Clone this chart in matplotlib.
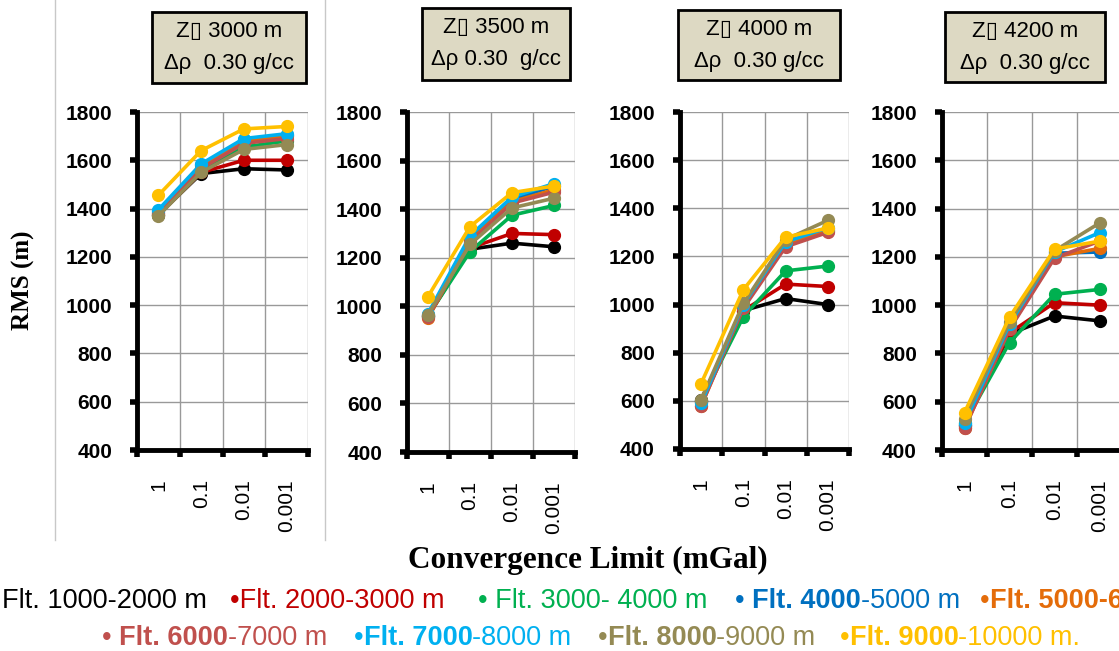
import matplotlib
matplotlib.use("Agg")
import matplotlib.pyplot as plt
from matplotlib.patches import Rectangle
from matplotlib.lines import Line2D

W, H = 1119, 651

# --- data ---
limits = ["1", "0.1", "0.01", "0.001"]
depths = ["3000", "3500", "4000", "4200"]
rho_text = ["Δρ  0.30 g/cc", "Δρ 0.30  g/cc", "Δρ  0.30 g/cc", "Δρ  0.30 g/cc"]

bands = ["1000-2000", "2000-3000", "3000-4000", "4000-5000", "5000-6000",
         "6000-7000", "7000-8000", "8000-9000", "9000-10000"]
colors = ["#000000", "#C00000", "#00B050", "#0070C0", "#E46C0A",
          "#C0504D", "#00B0F0", "#948A54", "#FFC000"]

# RMS (m) per filter band, one list per band, same order as `bands`
rms_3000 = [
    [1375, 1545, 1565, 1560],
    [1375, 1550, 1600, 1600],
    [1375, 1555, 1655, 1680],
    [1390, 1580, 1685, 1705],
    [1380, 1570, 1680, 1700],
    [1380, 1565, 1670, 1690],
    [1395, 1585, 1690, 1710],
    [1370, 1550, 1645, 1665],
    [1455, 1640, 1730, 1740],
]
rms_3500 = [
    [960, 1235, 1260, 1245],
    [960, 1240, 1300, 1295],
    [960, 1225, 1375, 1415],
    [965, 1280, 1440, 1495],
    [950, 1270, 1430, 1480],
    [955, 1265, 1425, 1470],
    [970, 1290, 1450, 1505],
    [965, 1255, 1405, 1445],
    [1040, 1328, 1468, 1495],
]
rms_4000 = [
    [605, 975, 1025, 1000],
    [600, 975, 1085, 1075],
    [600, 950, 1140, 1160],
    [595, 995, 1255, 1310],
    [580, 990, 1250, 1305],
    [580, 985, 1240, 1300],
    [590, 1000, 1260, 1320],
    [605, 1005, 1270, 1350],
    [672, 1062, 1280, 1318],
]
rms_4200 = [
    [505, 880, 955, 935],
    [500, 885, 1010, 1000],
    [510, 845, 1045, 1065],
    [505, 915, 1215, 1220],
    [490, 905, 1200, 1235],
    [490, 900, 1195, 1265],
    [510, 920, 1220, 1300],
    [530, 930, 1225, 1340],
    [555, 950, 1232, 1265],
]
panels = [rms_3000, rms_3500, rms_4000, rms_4200]

# --- layout (pixel boxes: left, top, right, bottom) ---
axes_px = [(137, 112, 308, 450), (407, 112, 575, 452),
           (680, 112, 849, 449), (942, 112, 1122, 450)]
boxes_px = [(152, 12, 306, 83), (422, 8, 570, 80),
            (678, 10, 840, 80), (945, 12, 1105, 82)]

SANS = ["Liberation Sans", "DejaVu Sans"]
SERIF = ["Liberation Serif", "DejaVu Serif"]
plt.rcParams["font.family"] = SANS


def fx(px):
    return px / W


def fy(py):
    return 1 - py / H


fig = plt.figure(figsize=(W / 100, H / 100), dpi=100)

for k, data in enumerate(panels):
    l, t, r, b = axes_px[k]
    ax = fig.add_axes([fx(l), fy(b), fx(r - l), (b - t) / H])
    xs = [i + 0.5 for i in range(len(limits))]
    for vals, c in zip(data, colors):
        ax.plot(xs, vals, color=c, lw=2.6, marker="o", ms=8.5, mec=c, mfc=c)

    ax.set_xlim(0, 4)
    ax.set_ylim(400, 1800)
    ax.set_yticks(range(400, 1801, 200))
    ax.set_xticks(range(0, 5))
    ax.set_xticklabels([])
    ax.set_xticks(xs, minor=True)
    ax.set_xticklabels(limits, minor=True, rotation=90, va="top", fontsize=15)
    ax.tick_params(axis="x", which="minor", length=0, pad=21)
    ax.tick_params(axis="x", which="major", length=5, width=4, direction="out")
    ax.tick_params(axis="y", length=5, width=4, labelsize=15, pad=13)
    for lab in ax.get_yticklabels():
        lab.set_fontweight("bold")
    ax.grid(True, which="major", color="#999999", lw=1)
    ax.set_axisbelow(True)
    for s in ("top", "right"):
        ax.spines[s].set_visible(False)
    for s in ("left", "bottom"):
        ax.spines[s].set_linewidth(3.5)
        ax.spines[s].set_capstyle("projecting")

    # title box
    x0, y0, x1, y1 = boxes_px[k]
    fig.patches.append(Rectangle((fx(x0), fy(y1)), fx(x1 - x0), (y1 - y0) / H,
                                 transform=fig.transFigure, facecolor="#DDD9C3",
                                 edgecolor="black", lw=2))
    cx = fx((x0 + x1) / 2)
    fig.text(cx, fy(y0 + 20), f"Z▯ {depths[k]} m", ha="center", va="center",
             fontsize=16)
    fig.text(cx, fy(y0 + 52), rho_text[k], ha="center", va="center",
             fontsize=16)

# separators
for sx in (55, 325):
    fig.add_artist(Line2D([fx(sx), fx(sx)], [fy(0), fy(540)],
                          transform=fig.transFigure, color="#C8C8C8", lw=1))

fig.text(fx(23), fy(280), "RMS (m)", rotation=90, ha="center", va="center",
         fontsize=18, fontweight="bold", family=SERIF)
fig.text(fx(588), fy(560), "Convergence Limit (mGal)", ha="center",
         va="center", fontsize=22.5, fontweight="bold", family=SERIF)

# legend as coloured text pieces (bold/normal runs chained left to right)
lax = fig.add_axes([0, 0, 1, 1])
lax.axis("off")
legend_rows = [
    (608, [(2, 0, [("Flt. 1000-2000 m", "normal")]),
           (230, 1, [("•Flt. 2000-3000 m", "normal")]),
           (478, 2, [("• Flt. 3000- 4000 m", "normal")]),
           (735, 3, [("• ", "normal"), ("Flt. 4000", "bold"), ("-5000 m", "normal")]),
           (980, 4, [("•", "normal"), ("Flt. 5000-6000 m", "bold")])]),
    (645, [(102, 5, [("• ", "normal"), ("Flt. 6000", "bold"), ("-7000 m", "normal")]),
           (354, 6, [("•", "normal"), ("Flt. 7000", "bold"), ("-8000 m", "normal")]),
           (598, 7, [("•", "normal"), ("Flt. 8000", "bold"), ("-9000 m", "normal")]),
           (840, 8, [("•", "normal"), ("Flt. 9000", "bold"), ("-10000 m.", "normal")])]),
]
LEG_SIZE = 19.5
for base_y, entries in legend_rows:
    for x0, ci, pieces in entries:
        prev = None
        for txt, wt in pieces:
            if prev is None:
                prev = lax.text(fx(x0), fy(base_y), txt, color=colors[ci],
                                fontsize=LEG_SIZE, fontweight=wt,
                                va="baseline", ha="left",
                                transform=fig.transFigure)
            else:
                prev = lax.annotate(txt, xy=(1, 0), xycoords=prev,
                                    color=colors[ci], fontsize=LEG_SIZE,
                                    fontweight=wt, va="bottom", ha="left")

fig.savefig("out.png", dpi=100)
